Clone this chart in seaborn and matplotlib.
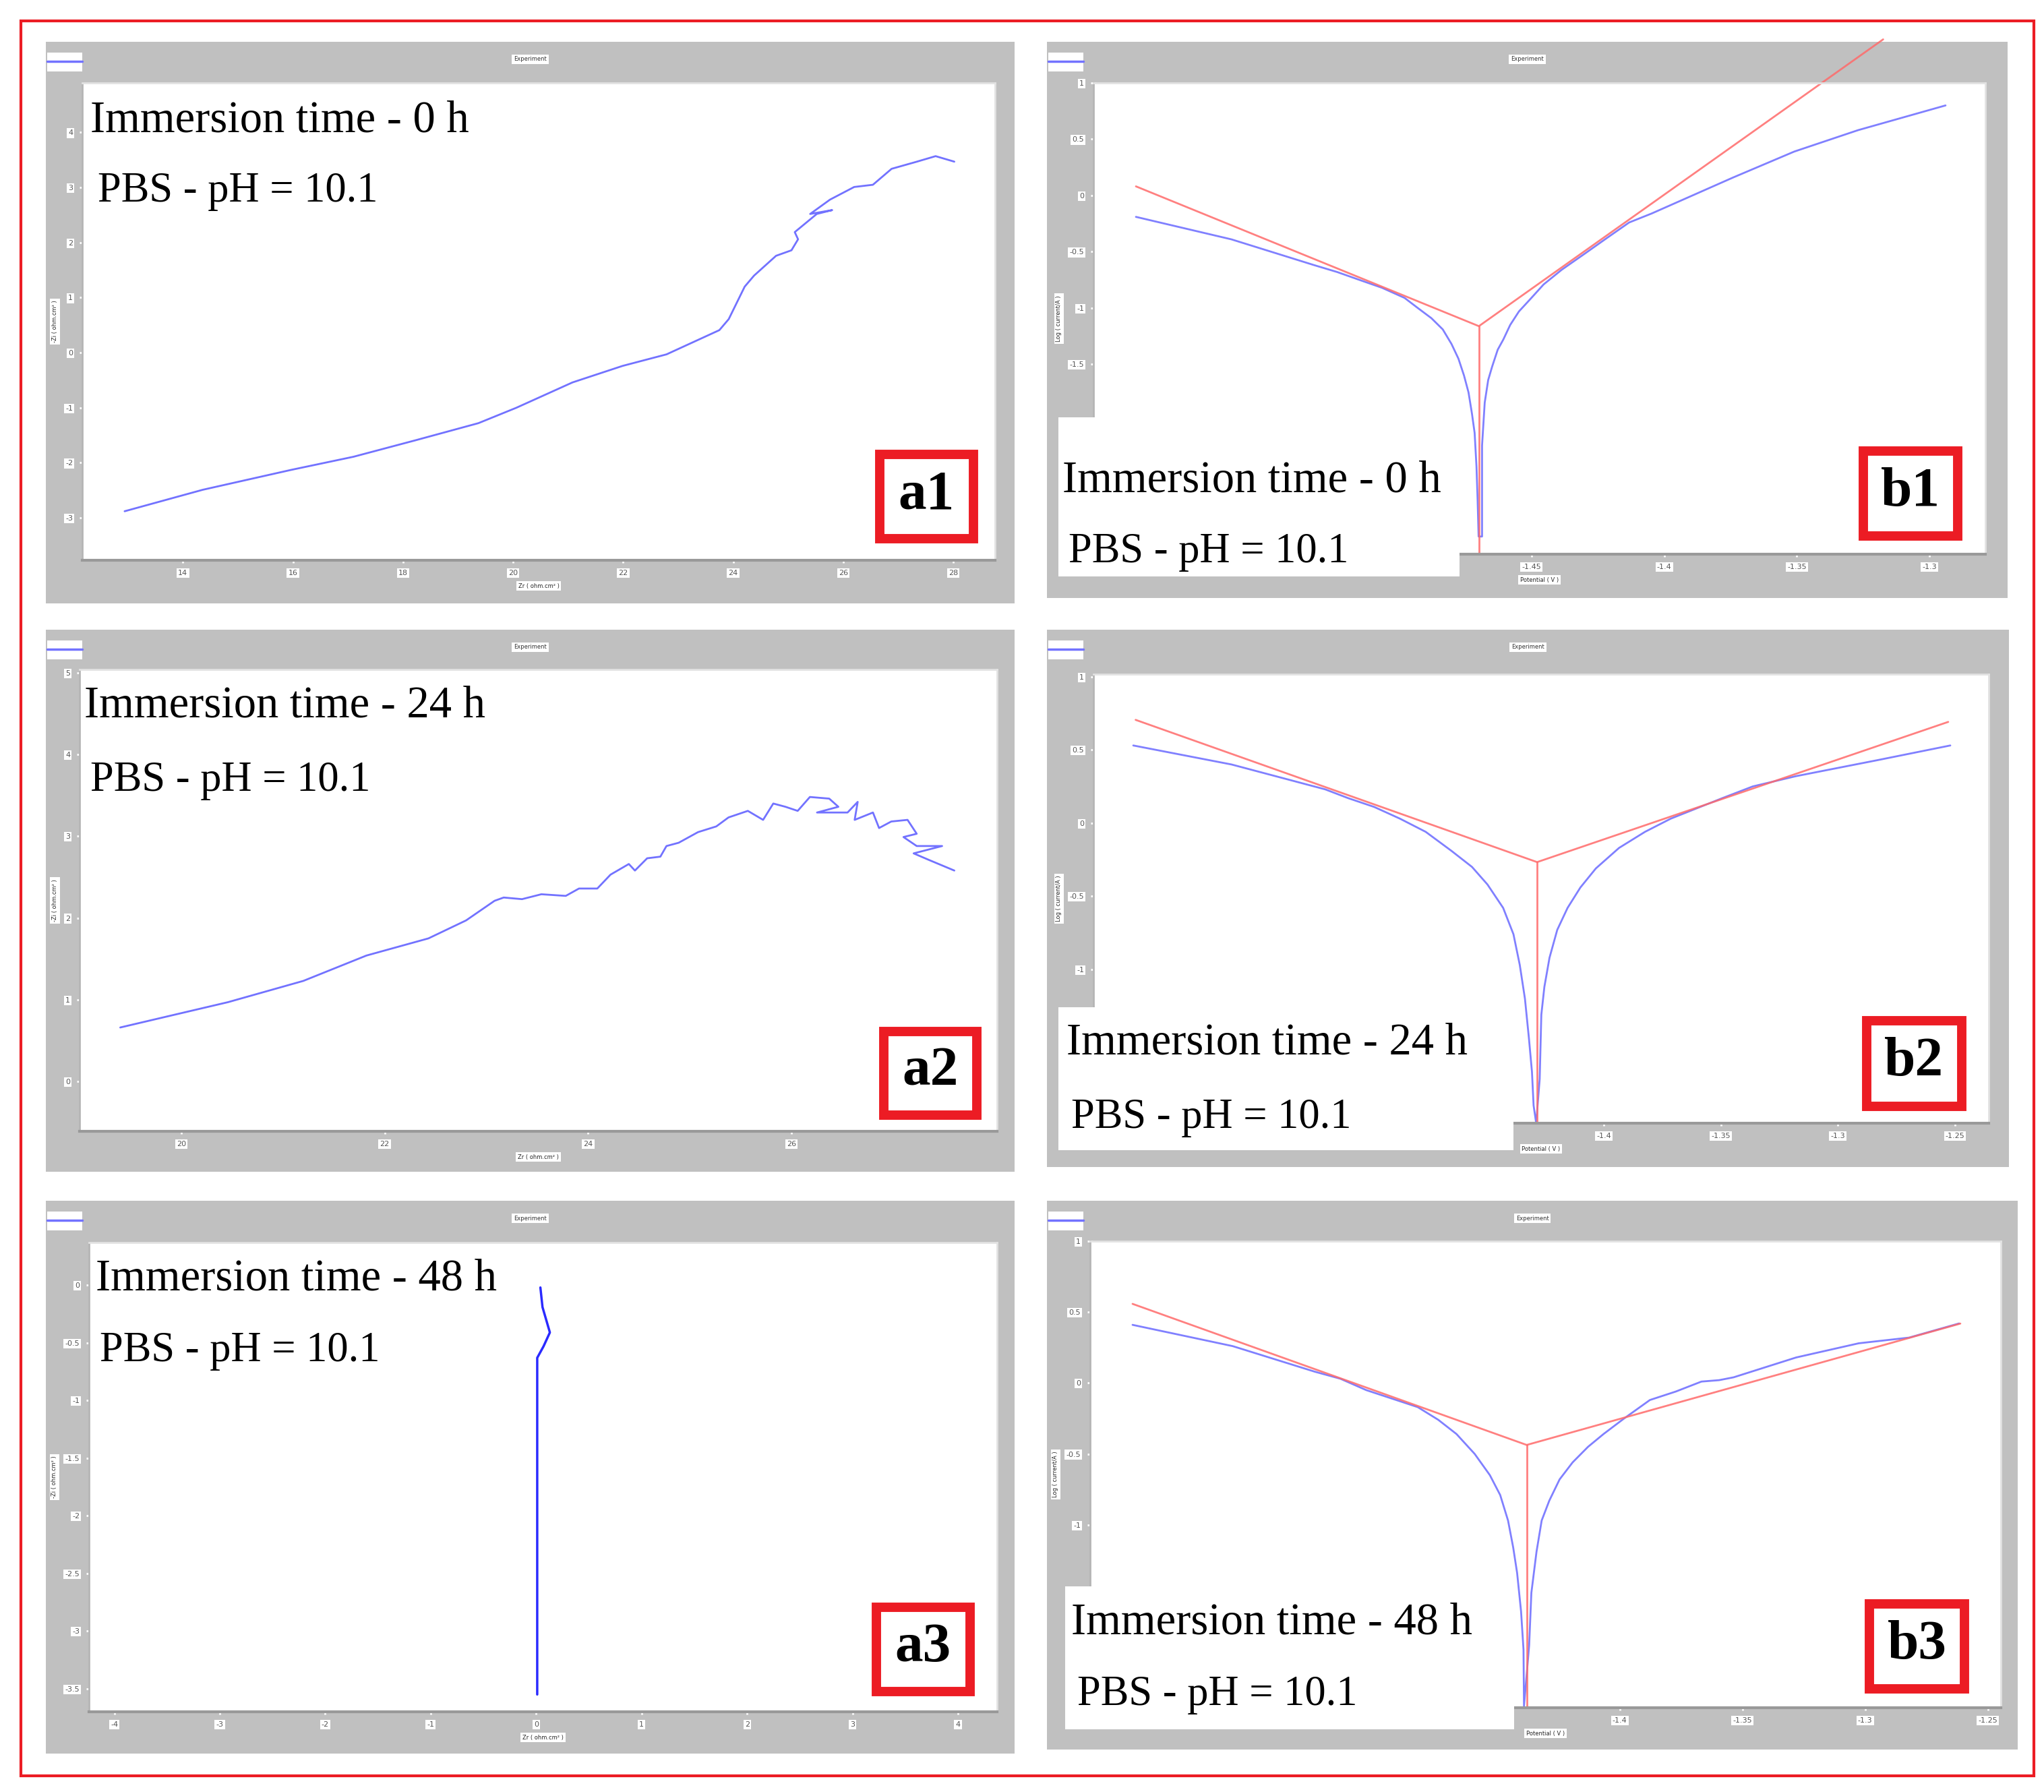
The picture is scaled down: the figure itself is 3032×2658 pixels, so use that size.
import matplotlib
matplotlib.use("Agg")
import matplotlib.pyplot as plt
import seaborn as sns
from matplotlib.patches import Rectangle
from matplotlib.lines import Line2D

W, H = 3032, 2658

# -----------------------------
# Data
# -----------------------------
# a1 : 0 h
a1_x = [12.94, 14.36, 15.96, 17.10, 18.23, 19.37, 20.06, 21.08, 21.99, 22.79, 23.75,
        23.92, 24.21, 24.38, 24.78, 25.06, 25.18, 25.12, 25.52, 25.80, 25.40, 25.76,
        26.20, 26.54, 26.88, 27.34, 27.68, 28.02]
a1_y = [-2.88, -2.49, -2.13, -1.89, -1.59, -1.28, -1.00, -0.54, -0.24, -0.03, 0.41,
        0.61, 1.20, 1.40, 1.76, 1.86, 2.06, 2.19, 2.52, 2.59, 2.52, 2.78,
        3.01, 3.05, 3.34, 3.47, 3.57, 3.47]

# a2 : 24 h
a2_x = [19.40, 20.46, 21.20, 21.82, 22.43, 22.80, 23.08, 23.17, 23.35, 23.54, 23.78,
        23.91, 24.09, 24.22, 24.40, 24.46, 24.58, 24.71, 24.77, 24.89, 25.08, 25.26,
        25.38, 25.57, 25.72, 25.82, 25.94, 26.06, 26.18, 26.37, 26.46, 26.25, 26.55,
        26.65, 26.62, 26.80, 26.86, 26.98, 27.14, 27.23, 27.10, 27.23, 27.48, 27.20,
        27.35, 27.60]
a2_y = [0.66, 0.97, 1.23, 1.54, 1.75, 1.97, 2.21, 2.25, 2.23, 2.29, 2.27,
        2.36, 2.36, 2.53, 2.66, 2.58, 2.73, 2.75, 2.88, 2.92, 3.05, 3.12,
        3.23, 3.31, 3.20, 3.40, 3.36, 3.31, 3.48, 3.46, 3.36, 3.29, 3.29,
        3.42, 3.20, 3.29, 3.10, 3.18, 3.20, 3.03, 2.99, 2.88, 2.88, 2.79,
        2.71, 2.58]

# a3 : 48 h
a3_x = [0.01, 0.01, 0.01, 0.07, 0.13, 0.06, 0.04]
a3_y = [-3.55, -1.50, -0.63, -0.53, -0.41, -0.19, -0.02]

# b1 : 0 h (measured curve + Tafel fit)
b1_blue_x = [-1.599, -1.563, -1.5317, -1.5232, -1.5148, -1.5063, -1.4978, -1.4928, -1.4877,
             -1.4834, -1.4801, -1.4775, -1.4754, -1.4737, -1.4724, -1.4714, -1.4707, -1.4703,
             -1.4699, -1.4686, -1.4686, -1.4676, -1.4663, -1.4648, -1.4627, -1.4606, -1.4580,
             -1.4547, -1.4504, -1.4454, -1.4386, -1.4301, -1.4217, -1.4132, -1.4047, -1.374,
             -1.351, -1.327, -1.294]
b1_blue_y = [-0.19, -0.39, -0.62, -0.68, -0.75, -0.82, -0.91, -1.00, -1.09,
             -1.19, -1.32, -1.45, -1.60, -1.75, -1.94, -2.11, -2.41, -2.69,
             -3.03, -3.03, -2.22, -1.84, -1.64, -1.52, -1.37, -1.28, -1.15,
             -1.03, -0.92, -0.79, -0.66, -0.52, -0.38, -0.24, -0.16, 0.16,
             0.39, 0.58, 0.80]
b1_red_x = [-1.599, -1.4698, -1.3175]
b1_red_y = [0.081, -1.161, 1.387]
b1_ecorr = -1.4698
b1_floor = -3.19

# b2 : 24 h
b2_blue_x = [-1.601, -1.559, -1.519, -1.5092, -1.4981, -1.4871, -1.4761, -1.4651, -1.4563,
             -1.4497, -1.4430, -1.4386, -1.4359, -1.4337, -1.4320, -1.4307, -1.4300, -1.4289,
             -1.4274, -1.4267, -1.4254, -1.4232, -1.4199, -1.4155, -1.4100, -1.4034, -1.3935,
             -1.3824, -1.3714, -1.3604, -1.3494, -1.3364, -1.318, -1.283, -1.252]
b2_blue_y = [0.53, 0.40, 0.23, 0.17, 0.11, 0.03, -0.06, -0.19, -0.30,
             -0.42, -0.58, -0.76, -0.97, -1.20, -1.47, -1.70, -1.93, -2.05,
             -1.75, -1.31, -1.12, -0.92, -0.73, -0.58, -0.44, -0.31, -0.17,
             -0.06, 0.03, 0.10, 0.17, 0.25, 0.32, 0.43, 0.53]
b2_red_x = [-1.600, -1.4285, -1.2529]
b2_red_y = [0.705, -0.267, 0.691]
b2_ecorr = -1.4285
b2_floor = -2.05

# b3 : 48 h
b3_blue_x = [-1.5985, -1.5577, -1.5243, -1.5138, -1.5033, -1.4928, -1.4823, -1.4739, -1.4665,
             -1.4591, -1.4529, -1.4487, -1.4455, -1.4434, -1.4418, -1.4402, -1.4392, -1.4390,
             -1.4369, -1.4360, -1.4339, -1.4318, -1.4287, -1.4245, -1.4192, -1.4129, -1.4066,
             -1.3982, -1.3877, -1.3771, -1.3667, -1.3595, -1.3536, -1.3281, -1.3026, -1.2821,
             -1.2617]
b3_blue_y = [0.41, 0.26, 0.08, 0.03, -0.05, -0.11, -0.17, -0.26, -0.36,
             -0.50, -0.65, -0.79, -0.97, -1.16, -1.34, -1.61, -1.88, -2.28,
             -1.85, -1.48, -1.19, -0.97, -0.83, -0.68, -0.56, -0.45, -0.36,
             -0.25, -0.12, -0.06, 0.01, 0.02, 0.04, 0.18, 0.28, 0.32,
             0.42]
b3_red_x = [-1.5985, -1.4379, -1.2612]
b3_red_y = [0.558, -0.437, 0.419]
b3_ecorr = -1.4379
b3_floor = -2.29

# tick labels
a1_xt = [14, 16, 18, 20, 22, 24, 26, 28]
a1_yt = [4, 3, 2, 1, 0, -1, -2, -3]
a2_xt = [20, 22, 24, 26]
a2_yt = [5, 4, 3, 2, 1, 0]
a3_xt = [-4, -3, -2, -1, 0, 1, 2, 3, 4]
a3_yt = [0, -0.5, -1, -1.5, -2, -2.5, -3, -3.5]
b1_xt = [-1.45, -1.4, -1.35, -1.3]
b1_yt = [1, 0.5, 0, -0.5, -1, -1.5]
b23_xt = [-1.4, -1.35, -1.3, -1.25]
b23_yt = [1, 0.5, 0, -0.5, -1]

times = ["0 h", "24 h", "48 h"]
medium = "PBS - pH = 10.1"

# -----------------------------
# Style
# -----------------------------
sns.set_theme(style="white")
plt.rcParams["font.family"] = ["Liberation Serif", "DejaVu Serif"]

GRAY = "#c0c0c0"
BLUE = "#7272ff"
RED = "#ff6a6a"
BOX_RED = "#ec1c24"

fig = plt.figure(figsize=(W / 100, H / 100), dpi=100)
fig.patch.set_facecolor("white")


def fx(x):
    return x / W


def fy(y):
    return 1 - y / H


def add_rect(x0, y0, x1, y1, **kw):
    r = Rectangle((fx(x0), fy(y1)), (x1 - x0) / W, (y1 - y0) / H,
                  transform=fig.transFigure, **kw)
    fig.add_artist(r)
    return r


# outer red frame
add_rect(31, 31, 3017, 2634, fill=False, ec=BOX_RED, lw=3, zorder=6)


def make_panel(gray, white, xlim, ylim, xt, yt, xlab, ylab):
    gx0, gy0, gx1, gy1 = gray
    bg = fig.add_axes([fx(gx0), fy(gy1), (gx1 - gx0) / W, (gy1 - gy0) / H])
    bg.set_facecolor(GRAY)
    bg.set_xticks([])
    bg.set_yticks([])
    for s in bg.spines.values():
        s.set_visible(False)

    # little "Experiment" title + legend swatch of the software window
    fig.text(fx((gx0 + gx1) / 2), fy(gy0 + 26), "Experiment", ha="center", va="center",
             fontsize=6, family="DejaVu Sans", color="#333333",
             bbox=dict(fc="white", ec="none", pad=2))
    add_rect(gx0 + 2, gy0 + 16, gx0 + 54, gy0 + 44, fc="white", ec="none", zorder=2)
    fig.add_artist(Line2D([fx(gx0 + 2), fx(gx0 + 54)], [fy(gy0 + 29)] * 2,
                          transform=fig.transFigure, color=BLUE, lw=2.5, zorder=3))

    wx0, wy0, wx1, wy1 = white
    ax = fig.add_axes([fx(wx0), fy(wy1), (wx1 - wx0) / W, (wy1 - wy0) / H])
    ax.set_facecolor("white")
    ax.set_xlim(xlim)
    ax.set_ylim(ylim)
    ax.set_xticks(xt)
    ax.set_yticks(yt)
    ax.set_xticklabels([str(v) for v in xt])
    ax.set_yticklabels([str(v) for v in yt])
    ax.tick_params(axis="both", labelsize=8, labelcolor="#555555", length=6, width=2,
                   color="white", direction="inout", pad=7, bottom=True, left=True)
    for t in ax.get_xticklabels() + ax.get_yticklabels():
        t.set_fontfamily("DejaVu Sans")
        t.set_bbox(dict(fc="white", ec="none", pad=1.5))
    for side in ["top", "right"]:
        ax.spines[side].set_color("#e2e2e2")
        ax.spines[side].set_linewidth(2)
    ax.spines["bottom"].set_color("#999999")
    ax.spines["bottom"].set_linewidth(3)
    ax.spines["left"].set_color("#b5b5b5")
    ax.spines["left"].set_linewidth(2)
    ax.set_xlabel(xlab, fontsize=6, family="DejaVu Sans", labelpad=7,
                  bbox=dict(fc="white", ec="none", pad=2))
    ax.set_ylabel(ylab, fontsize=6, family="DejaVu Sans", labelpad=8,
                  bbox=dict(fc="white", ec="none", pad=2))
    ax.grid(False)
    return ax


def annotate(x1, y1, x2, y2, t):
    fig.text(fx(x1), fy(y1), "Immersion time - " + t, fontsize=48, va="baseline",
             ha="left", color="black", zorder=5)
    fig.text(fx(x2), fy(y2), medium, fontsize=45, va="baseline", ha="left",
             color="black", zorder=5)


def tag(x0, y0, x1, y1, s):
    add_rect(x0 + 7, y0 + 7, x1 - 7, y1 - 7, fc="white", ec=BOX_RED, lw=10, zorder=4)
    fig.text(fx((x0 + x1) / 2), fy((y0 + y1) / 2 - 2), s, fontsize=60, weight="bold",
             ha="center", va="center", color="black", zorder=5)


def tafel(ax, bx, by, rx, ry, ecorr, floor):
    sns.lineplot(x=bx, y=by, ax=ax, color=BLUE, lw=2, sort=False, estimator=None, alpha=0.9)
    sns.lineplot(x=rx, y=ry, ax=ax, color=RED, lw=2, sort=False, estimator=None, alpha=0.85)
    ax.lines[-1].set_clip_on(False)
    sns.lineplot(x=[ecorr, ecorr], y=[ry[1], floor], ax=ax, color=RED, lw=2,
                 sort=False, estimator=None, alpha=0.85)


A_XLAB, A_YLAB = "Zr ( ohm.cm² )", "-Zi ( ohm.cm² )"
B_XLAB, B_YLAB = "Potential ( V )", "Log ( current/A )"

# -----------------------------
# a1
# -----------------------------
ax = make_panel((68, 62, 1505, 895), (122, 123, 1476, 831),
                (12.17, 28.76), (-3.77, 4.9), a1_xt, a1_yt, A_XLAB, A_YLAB)
sns.lineplot(x=a1_x, y=a1_y, ax=ax, color=BLUE, lw=2, sort=False, estimator=None)
annotate(134, 195, 145, 299, times[0])
tag(1298, 667, 1451, 806, "a1")

# -----------------------------
# b1
# -----------------------------
ax = make_panel((1553, 62, 2978, 887), (1622, 123, 2945, 822),
                (-1.615, -1.279), (-3.187, 1.0), b1_xt, b1_yt, B_XLAB, B_YLAB)
tafel(ax, b1_blue_x, b1_blue_y, b1_red_x, b1_red_y, b1_ecorr, b1_floor)
add_rect(1570, 619, 2165, 855, fc="white", ec="none", zorder=3)
annotate(1576, 729, 1585, 834, times[0])
tag(2757, 662, 2911, 802, "b1")

# -----------------------------
# a2
# -----------------------------
ax = make_panel((68, 934, 1505, 1738), (118, 993, 1479, 1678),
                (19.0, 28.02), (-0.61, 5.04), a2_xt, a2_yt, A_XLAB, A_YLAB)
sns.lineplot(x=a2_x, y=a2_y, ax=ax, color=BLUE, lw=2, sort=False, estimator=None)
annotate(125, 1064, 134, 1173, times[1])
tag(1304, 1523, 1456, 1661, "a2")

# -----------------------------
# b2
# -----------------------------
ax = make_panel((1553, 934, 2980, 1731), (1622, 1000, 2950, 1666),
                (-1.618, -1.2356), (-2.051, 1.017), b23_xt, b23_yt, B_XLAB, B_YLAB)
tafel(ax, b2_blue_x, b2_blue_y, b2_red_x, b2_red_y, b2_ecorr, b2_floor)
add_rect(1570, 1494, 2245, 1706, fc="white", ec="none", zorder=3)
annotate(1582, 1564, 1589, 1673, times[1])
tag(2762, 1507, 2917, 1648, "b2")

# -----------------------------
# a3
# -----------------------------
ax = make_panel((68, 1781, 1505, 2601), (132, 1843, 1479, 2539),
                (-4.24, 4.37), (-3.70, 0.37), a3_xt, a3_yt, A_XLAB, A_YLAB)
sns.lineplot(x=a3_x, y=a3_y, ax=ax, color="#2a2aff", lw=2.5, sort=False, estimator=None)
annotate(142, 1913, 148, 2019, times[2])
tag(1293, 2377, 1446, 2516, "a3")

# -----------------------------
# b3
# -----------------------------
ax = make_panel((1553, 1781, 2993, 2595), (1617, 1841, 2968, 2533),
                (-1.6158, -1.2447), (-2.29, 1.0), b23_xt, b23_yt, B_XLAB, B_YLAB)
tafel(ax, b3_blue_x, b3_blue_y, b3_red_x, b3_red_y, b3_ecorr, b3_floor)
add_rect(1580, 2353, 2246, 2565, fc="white", ec="none", zorder=3)
annotate(1589, 2424, 1598, 2529, times[2])
tag(2766, 2372, 2921, 2512, "b3")

fig.savefig("out.png", dpi=100)
